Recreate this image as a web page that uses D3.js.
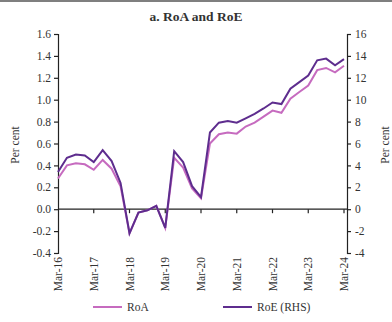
<!DOCTYPE html>
<html>
<head>
<meta charset="utf-8">
<script src="https://cdn.jsdelivr.net/npm/d3@7"></script>
<style>
body{margin:0;background:#fff;}
text{font-family:"Liberation Serif","DejaVu Serif",serif;fill:#333;}
</style>
</head>
<body>
<div id="container"></div>
<script>
// quarterly categories Mar-16 .. Mar-24
var months = ["Mar","Jun","Sep","Dec"];
var quarters = [];
for (var y = 16; y <= 24; y++) {
	for (var m = 0; m < 4; m++) {
		if (y == 24 && m > 0) break;
		quarters.push(months[m] + "-" + y);
	}
}
var tickLabels = ["Mar-16","Mar-17","Mar-18","Mar-19","Mar-20","Mar-21","Mar-22","Mar-23","Mar-24"];

var roa = [0.28,0.40,0.42,0.41,0.36,0.45,0.37,0.21,-0.22,-0.03,-0.01,0.03,-0.17,
	0.47,0.38,0.19,0.10,0.60,0.685,0.70,0.69,0.755,0.79,0.845,0.90,0.88,1.01,1.07,1.13,1.27,1.29,1.25,1.31];
var roe = [3.4,4.7,5.0,4.9,4.3,5.4,4.4,2.4,-2.2,-0.3,-0.1,0.3,-1.7,
	5.3,4.3,2.1,1.1,7.0,7.9,8.05,7.9,8.3,8.7,9.2,9.75,9.6,11.0,11.6,12.2,13.6,13.75,13.15,13.7];

var leftTicks = [-0.4,-0.2,0.0,0.2,0.4,0.6,0.8,1.0,1.2,1.4,1.6];
var rightTicks = [-4,-2,0,2,4,6,8,10,12,14,16];

var W = 392, H = 322;
var pLeft = 58, pRight = 347, pTop = 34, pBottom = 253;

var svg = d3.select("#container").append("svg")
	.attr("width", W)
	.attr("height", H);

svg.append("line").attr("x1",0).attr("x2",W).attr("y1",1).attr("y2",1)
	.attr("stroke","#555").attr("stroke-width",1.5);

svg.append("text").attr("x",196).attr("y",21)
	.attr("text-anchor","middle").attr("font-weight","bold").attr("font-size",13.5)
	.text("a. RoA and RoE");

var x = d3.scalePoint().domain(quarters).range([pLeft, pRight - 3]);
var yL = d3.scaleLinear().domain([-0.4,1.6]).range([pBottom, pTop]);
var yR = d3.scaleLinear().domain([-4,16]).range([pBottom, pTop]);

// hyphen instead of unicode minus, as in the source
var fmtL = function(d){return d.toFixed(1).replace("−","-");};
var fmtR = function(d){return String(d);};

var gl = svg.append("g").attr("transform","translate(" + pLeft + ",0)")
	.call(d3.axisLeft(yL).tickValues(leftTicks).tickFormat(fmtL).tickSizeOuter(0).tickSize(4));
gl.selectAll("text").attr("x",-7);

var gr = svg.append("g").attr("transform","translate(" + pRight + ",0)")
	.call(d3.axisRight(yR).tickValues(rightTicks).tickFormat(fmtR).tickSizeOuter(0).tickSize(4));
gr.selectAll("text").attr("x",8);

svg.selectAll(".domain, .tick line").attr("stroke","#222").attr("stroke-width",1.2);
svg.selectAll(".tick text").attr("font-size",11.5).style("font-family","Liberation Serif, serif").attr("fill","#333");

// zero line + x ticks
svg.append("line").attr("x1",pLeft).attr("x2",pRight).attr("y1",yL(0)).attr("y2",yL(0))
	.attr("stroke","#222").attr("stroke-width",1.2);
svg.selectAll("line.xt").data(tickLabels.slice(1)).enter().append("line")
	.attr("class","xt")
	.attr("x1",function(d){return x(d);}).attr("x2",function(d){return x(d);})
	.attr("y1",yL(0)).attr("y2",yL(0)+4)
	.attr("stroke","#222").attr("stroke-width",1.2);

svg.selectAll("text.xl").data(tickLabels).enter().append("text")
	.attr("class","xl")
	.attr("font-size",11.5)
	.attr("text-anchor","end")
	.attr("transform",function(d){return "translate(" + (x(d)+4) + ",257) rotate(-90)";})
	.text(function(d){return d;});

// axis titles
svg.append("text").attr("font-size",11.5).attr("text-anchor","middle")
	.attr("transform","translate(19,145) rotate(-90)").text("Per cent");
svg.append("text").attr("font-size",11.5).attr("text-anchor","middle")
	.attr("transform","translate(389,145) rotate(-90)").text("Per cent");

var roaColor = "#c66bbf", roeColor = "#5e2d8e";

var lineL = d3.line().x(function(d,i){return x(quarters[i]);}).y(function(d){return yL(d);});
var lineR = d3.line().x(function(d,i){return x(quarters[i]);}).y(function(d){return yR(d);});

svg.append("path").datum(roa).attr("d",lineL)
	.attr("fill","none").attr("stroke",roaColor).attr("stroke-width",2);
svg.append("path").datum(roe).attr("d",lineR)
	.attr("fill","none").attr("stroke",roeColor).attr("stroke-width",2);

// legend
var legend = [["RoA",roaColor,93],["RoE (RHS)",roeColor,223]];
legend.forEach(function(l){
	svg.append("line").attr("x1",l[2]).attr("x2",l[2]+29).attr("y1",307).attr("y2",307)
		.attr("stroke",l[1]).attr("stroke-width",2);
	svg.append("text").attr("x",l[2]+34).attr("y",311).attr("font-size",11.5).text(l[0]);
});
</script>
</body>
</html>
